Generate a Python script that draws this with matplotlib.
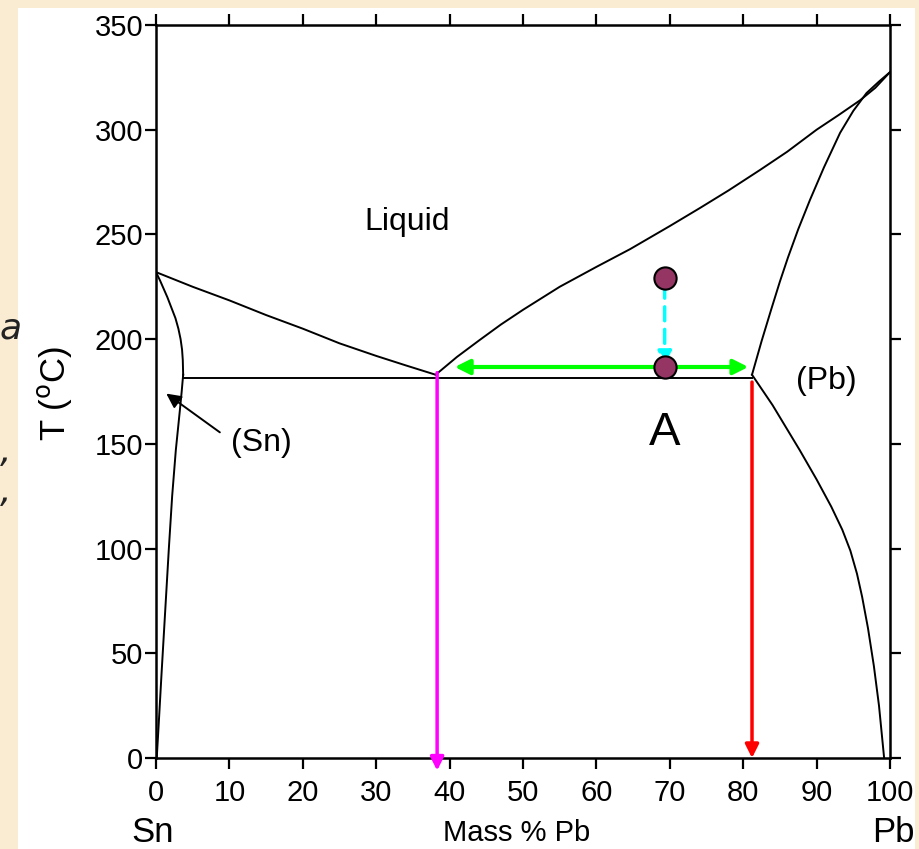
import numpy as np
import matplotlib.pyplot as plt
from matplotlib.patches import Rectangle

plt.rcParams['font.family'] = ['Liberation Sans', 'DejaVu Sans']

# Phase boundaries of the Sn-Pb diagram (mass % Pb, T in C)
liq_left_x = [0, 5, 10, 15, 20, 25, 30, 34, 38.1]
liq_left_t = [232, 225, 218.5, 211.5, 205, 198, 192, 187.5, 183]

liq_right_x = [38.1, 41, 44.1, 47, 50, 55, 60, 64.6, 70, 74.1, 78, 82.3,
               86, 90, 93, 95.9, 98, 100]
liq_right_t = [183, 191.5, 199.6, 207, 214, 225, 234.5, 243, 254, 262.6, 271,
               280.8, 289.5, 300, 307, 314, 320, 327.5]

pb_solidus_x = [81.2, 82.5, 83.8, 85, 86.1, 87.5, 89.1, 91, 93.2, 95, 96.8, 98.5, 100]
pb_solidus_t = [183, 199, 214, 227.5, 239, 252.5, 266.5, 282, 298.5, 309, 317.5, 323, 327.5]

pb_solvus_x = [81.2, 84, 87.7, 90, 92, 93.5, 94.6, 95.5, 96.2, 97, 97.8, 98.5, 99.2]
pb_solvus_t = [183, 168.5, 147, 133, 120, 109, 99, 88, 77, 62, 44, 25, 0]

sn_solidus_x = [0, 0.55, 1.05, 1.55, 2.1, 2.65, 3.05, 3.35, 3.55, 3.65, 3.7]
sn_solidus_t = [232, 228, 224, 220, 215, 210, 205, 200, 195, 190, 183]

sn_solvus_x = [3.7, 3.5, 3.25, 2.7, 2.2, 1.75, 1.25, 0.75, 0.35, 0.1]
sn_solvus_t = [183, 175, 166, 147, 125, 100, 70, 40, 15, 0]

eutectic_x = [3.7, 81.2]
eutectic_t = 181.5

# point A and the tie line
point_x = 69.3
point_t = [229.2, 186.7]
tie_x = [40.7, 80.7]
liquid_comp = 38.3
solid_comp = 81.2

fig = plt.figure(figsize=(9.2, 8.49), dpi=100)
fig.patch.set_facecolor('#f9ecd3')
fig.patches.append(Rectangle((18 / 920, 0), (915 - 18) / 920, (849 - 8) / 849,
                             transform=fig.transFigure, facecolor='white',
                             edgecolor='none', zorder=-5))

# text cut off at the left edge of the slide
for ch, yy in [('a', 328), (',', 452), (',', 492)]:
    fig.text(0, 1 - yy / 849, ch, fontsize=26, style='italic',
             family='DejaVu Sans', va='center', ha='left', color='#222222')

ax = fig.add_axes([156 / 920, 91 / 849, 734 / 920, 733 / 849])
ax.set_facecolor('white')

lw = 1.4
ax.plot(liq_left_x, liq_left_t, color='black', lw=lw)
ax.plot(liq_right_x, liq_right_t, color='black', lw=lw)
ax.plot(pb_solidus_x, pb_solidus_t, color='black', lw=lw)
ax.plot(pb_solvus_x, pb_solvus_t, color='black', lw=lw)
ax.plot(sn_solidus_x, sn_solidus_t, color='black', lw=lw)
ax.plot(sn_solvus_x, sn_solvus_t, color='black', lw=lw)
ax.plot(eutectic_x, [eutectic_t, eutectic_t], color='black', lw=lw)

# arrows down to the composition axis
ax.annotate('', xy=(liquid_comp, -6), xytext=(liquid_comp, 184),
            arrowprops=dict(arrowstyle='-|>', color='#ff00ff', lw=2.5,
                            mutation_scale=20, shrinkA=0, shrinkB=0),
            annotation_clip=False)
ax.annotate('', xy=(solid_comp, 0), xytext=(solid_comp, 179.5),
            arrowprops=dict(arrowstyle='-|>', color='#ff0000', lw=2.5,
                            mutation_scale=20, shrinkA=0, shrinkB=0))

# tie line
ax.annotate('', xy=(tie_x[0], point_t[1]), xytext=(tie_x[1], point_t[1]),
            arrowprops=dict(arrowstyle='<|-|>', color='#00ff00', lw=3,
                            mutation_scale=22, shrinkA=0, shrinkB=0))

# cooling path
ax.annotate('', xy=(point_x, point_t[1] + 1), xytext=(point_x, point_t[0] - 3),
            arrowprops=dict(arrowstyle='-|>', color='#00ffff', lw=2.5,
                            linestyle=(0, (4, 2.5)), mutation_scale=20,
                            shrinkA=0, shrinkB=0))
ax.plot([point_x, point_x], point_t, 'o', ms=16, mfc='#953563', mec='black',
        mew=1.5, zorder=5)

# labels inside the diagram
ax.text(34.2, 256, 'Liquid', fontsize=23, ha='center', va='center')
ax.text(91.3, 180, '(Pb)', fontsize=23, ha='center', va='center')
ax.text(69.3, 155, 'A', fontsize=34, ha='center', va='center')
ax.text(14.4, 150.5, '(Sn)', fontsize=23, ha='center', va='center')
ax.annotate('', xy=(1.4, 174), xytext=(8.7, 155.5),
            arrowprops=dict(arrowstyle='-|>', color='black', lw=1.4,
                            mutation_scale=22, shrinkA=0, shrinkB=0))

ax.set_xlim(0, 100)
ax.set_ylim(0, 350)
ax.set_xticks(np.arange(0, 101, 10))
ax.set_yticks(np.arange(0, 351, 50))
ax.tick_params(direction='out', length=8, width=1.6, labelsize=21,
               top=True, right=True)
ax.tick_params(axis='x', pad=7)
ax.tick_params(axis='y', pad=1)
for sp in ax.spines.values():
    sp.set_linewidth(1.8)

ax.set_ylabel('T ($^{\\rm o}$C)', fontsize=25)
ax.yaxis.set_label_coords(-0.112, 0.498)
ax.text(49.1, -36, 'Mass % Pb', fontsize=21, ha='center', va='center')
ax.text(-0.5, -35.5, 'Sn', fontsize=25, ha='center', va='center', clip_on=False)
ax.text(100.4, -35.5, 'Pb', fontsize=25, ha='center', va='center', clip_on=False)

fig.savefig('out.png', dpi=100)
